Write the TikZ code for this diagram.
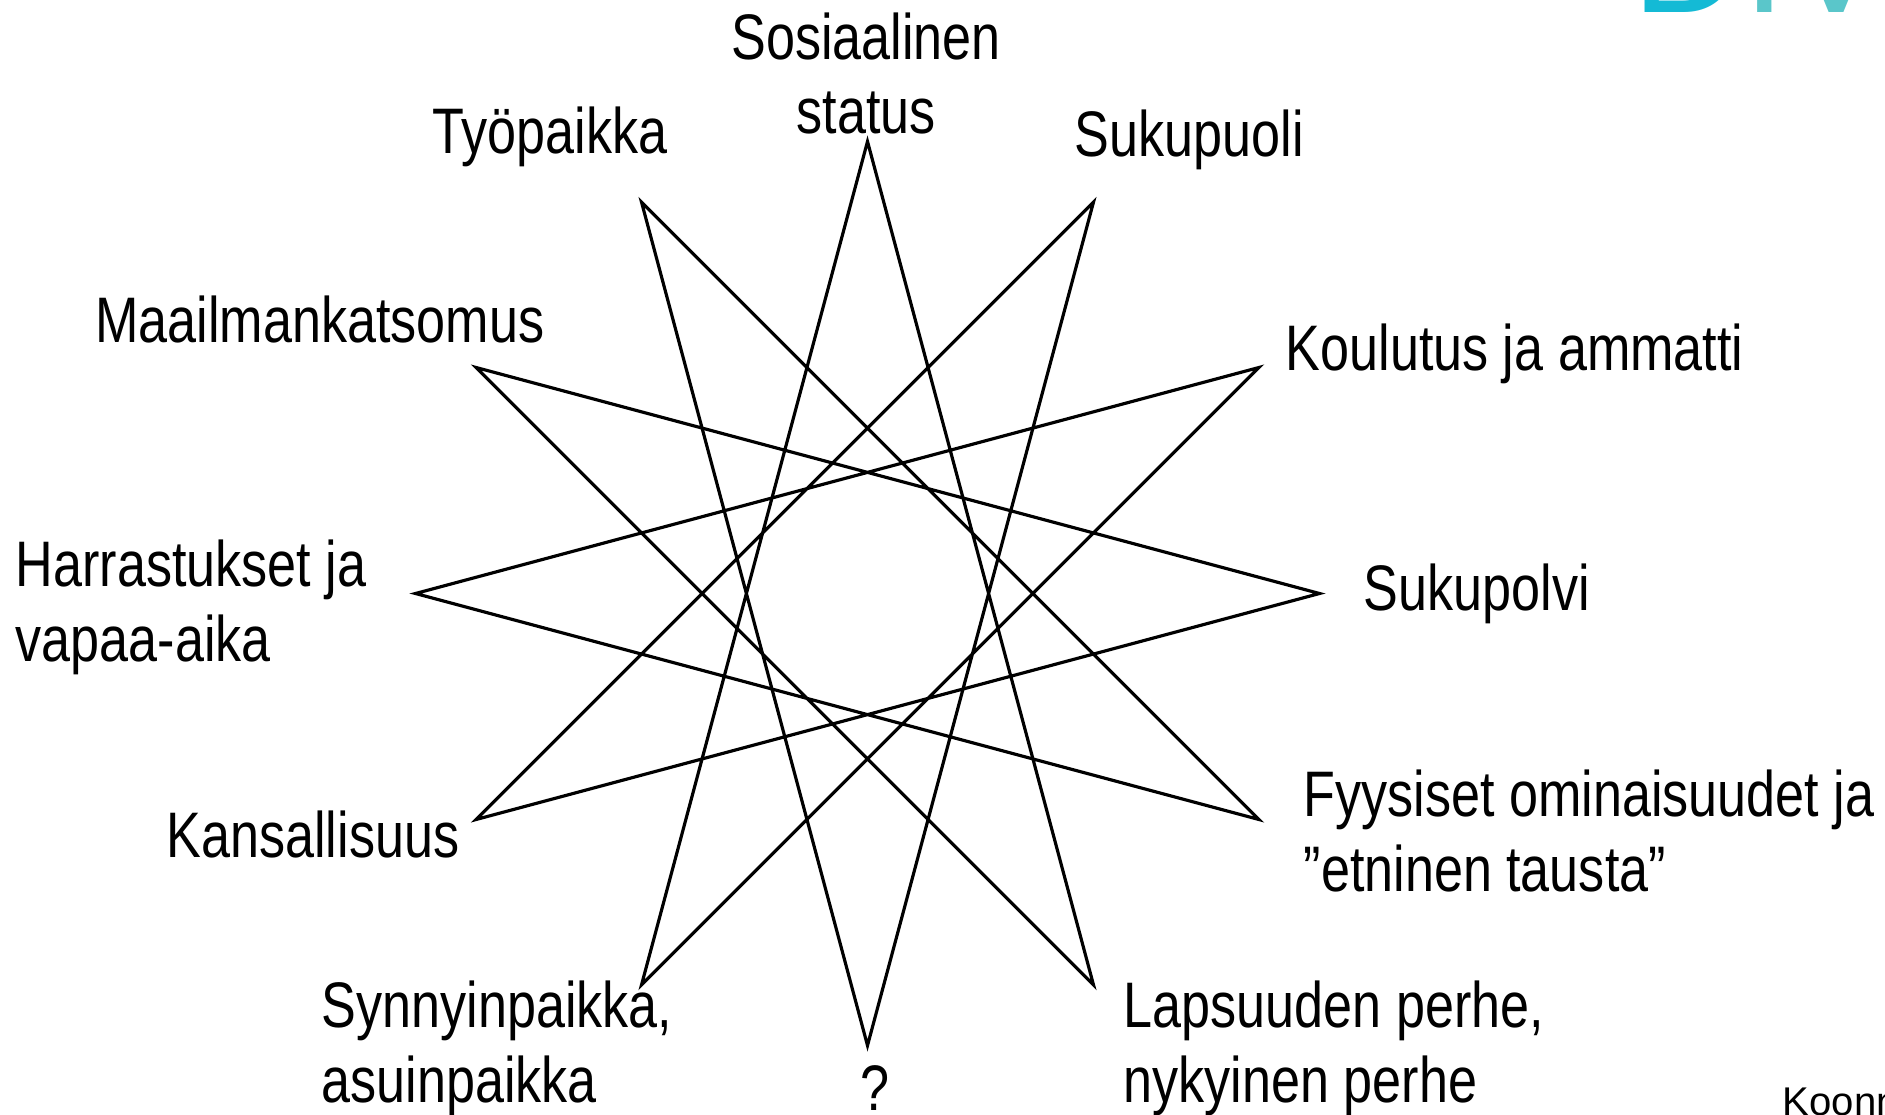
\documentclass[tikz,border=0pt]{standalone}
\usepackage{fontspec}
\setmainfont{Liberation Sans}
\newfontfamily\labelfont[FakeStretch=0.81]{Liberation Sans}
\usepackage{xcolor}
\usepackage{tikz}
\definecolor{divcyan}{HTML}{14BAD5}
\definecolor{divteal}{HTML}{5AC6CA}
\begin{document}
\begin{tikzpicture}[
      x=0.01cm, y=0.01cm,
      tunniste/.style={font=\labelfont\fontsize{18.3}{21.3}\selectfont, inner sep=0pt, align=left},
      tahti/.style={draw=black, line width=0.9pt}]
    \useasboundingbox (0,0) rectangle (1885,1114);
    \clip (0,0) rectangle (1885,1114);
    % 12-point star {12/5}
    \coordinate (o) at (867.5,520.5);
    \foreach \k in {0,...,11}
      \coordinate (p\k) at ([shift={(\k*30:452)}]o);
    \draw[tahti] (p0) foreach \k in {5,10,3,8,1,6,11,4,9,2,7} {-- (p\k)} -- cycle;
    % labels (base = baseline of the last line)
    \node[tunniste, anchor=base, align=center] (st) at (866,980) {Sosiaalinen\\ status};
    \node[tunniste, anchor=base east] (ty) at (668,960) {Työpaikka};
    \node[tunniste, anchor=base west] (su) at (1074,958) {Sukupuoli};
    \node[tunniste, anchor=base east] (ma) at (545,772) {Maailmankatsomus};
    \node[tunniste, anchor=base west] (ko) at (1285,744) {Koulutus ja ammatti};
    \node[tunniste, anchor=base west] (ha) at (15,453) {Harrastukset ja\\ vapaa-aika};
    \node[tunniste, anchor=base west] (sp) at (1363,504) {Sukupolvi};
    \node[tunniste, anchor=base east] (ka) at (460,257) {Kansallisuus};
    \node[tunniste, anchor=base west] (fy) at (1303,223) {Fyysiset ominaisuudet ja\\ ”etninen tausta”};
    \node[tunniste, anchor=base west] (sy) at (321,12) {Synnyinpaikka,\\ asuinpaikka};
    \node[tunniste, anchor=base] (kys) at (875,4) {?};
    \node[tunniste, anchor=base west] (la) at (1123,12) {Lapsuuden perhe,\\ nykyinen perhe};
    % cut-off title and footer
    \node[anchor=base west, inner sep=0pt, font=\fontsize{43.5}{50}\selectfont] (otsikko) at (1632,1101)
      {\textcolor{divcyan}{D}\textcolor{divteal}{IV}};
    \node[anchor=base west, inner sep=0pt, font=\fontsize{11.4}{13}\selectfont] (koonnut) at (1782,-1) {Koonn};
  \end{tikzpicture}
\end{document}
